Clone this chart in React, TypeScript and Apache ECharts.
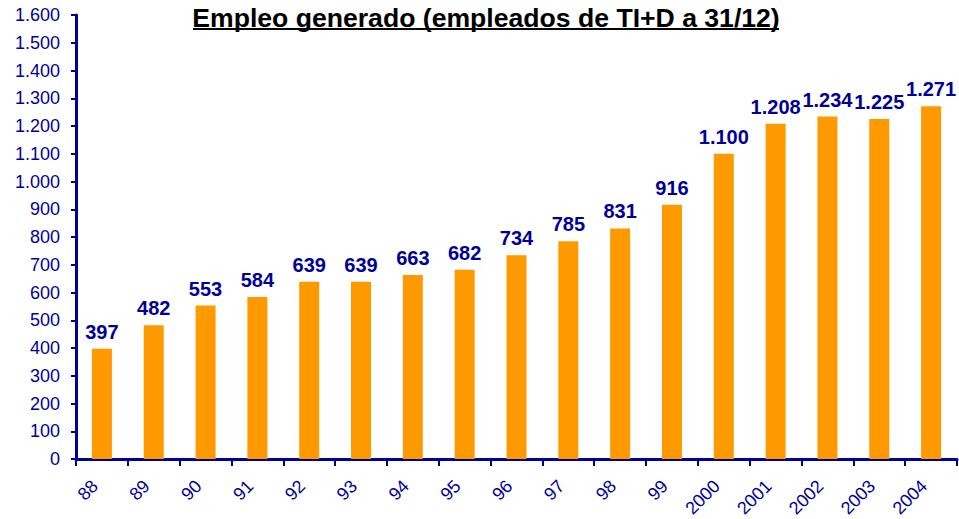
import React, { useEffect, useRef } from "react";
import * as echarts from "echarts";

const categories = ["88", "89", "90", "91", "92", "93", "94", "95", "96", "97", "98", "99", "2000", "2001", "2002", "2003", "2004"];
const values = [397, 482, 553, 584, 639, 639, 663, 682, 734, 785, 831, 916, 1100, 1208, 1234, 1225, 1271];
const titleText = "Empleo generado (empleados de TI+D a 31/12)";

const BLUE = "#000099";
const fmt = (v: number) => {
  const s = String(Math.round(v));
  return s.replace(/\B(?=(\d{3})+(?!\d))/g, ".");
};

export default function App() {
  const ref = useRef<HTMLDivElement>(null);
  useEffect(() => {
    if (!ref.current) return;
    const chart = echarts.init(ref.current, null, { renderer: "svg" });
    chart.setOption({
      animation: false,
      backgroundColor: "#ffffff",
      textStyle: { fontFamily: "Liberation Sans, Arial, sans-serif" },
      title: {
        text: titleText,
        left: 481,
        textAlign: "center",
        top: -1,
        textStyle: { fontSize: 26.6, fontWeight: "bold", color: "#000000", fontFamily: "Liberation Sans, Arial, sans-serif" },
      },
      graphic: [
        {
          type: "line",
          shape: { x1: 193, y1: 29, x2: 779, y2: 29 },
          style: { stroke: "#000000", lineWidth: 2 },
        },
      ],
      grid: { left: 76, right: 2, top: 15, bottom: 60, containLabel: false, outerBoundsMode: "none" },
      xAxis: {
        type: "category",
        data: categories,
        boundaryGap: true,
        axisLine: { lineStyle: { color: BLUE, width: 3 } },
        axisTick: { show: true, alignWithLabel: false, length: 7, lineStyle: { color: BLUE, width: 2 } },
        axisLabel: { rotate: 45, color: BLUE, fontSize: 18, margin: 17, interval: 0, padding: [0, 10, 0, 0] },
        splitLine: { show: false },
      },
      yAxis: {
        type: "value",
        min: 0,
        max: 1600,
        interval: 100,
        axisLine: { show: true, lineStyle: { color: BLUE, width: 3 } },
        axisTick: { show: true, length: 5, lineStyle: { color: BLUE, width: 2 } },
        axisLabel: { color: BLUE, fontSize: 18, margin: 16, formatter: (v: number) => fmt(v) },
        splitLine: { show: false },
      },
      series: [
        {
          type: "bar",
          data: values,
          barWidth: 20,
          itemStyle: { color: "#FF9900" },
          label: {
            show: true,
            position: "top",
            distance: 7,
            color: BLUE,
            fontSize: 20,
            fontWeight: "bold",
            formatter: (p: any) => fmt(p.value),
          },
        },
      ],
    });
    return () => chart.dispose();
  }, []);
  return <div ref={ref} style={{ position: "fixed", left: 0, top: 0, width: 959, height: 519 }} />;
}
